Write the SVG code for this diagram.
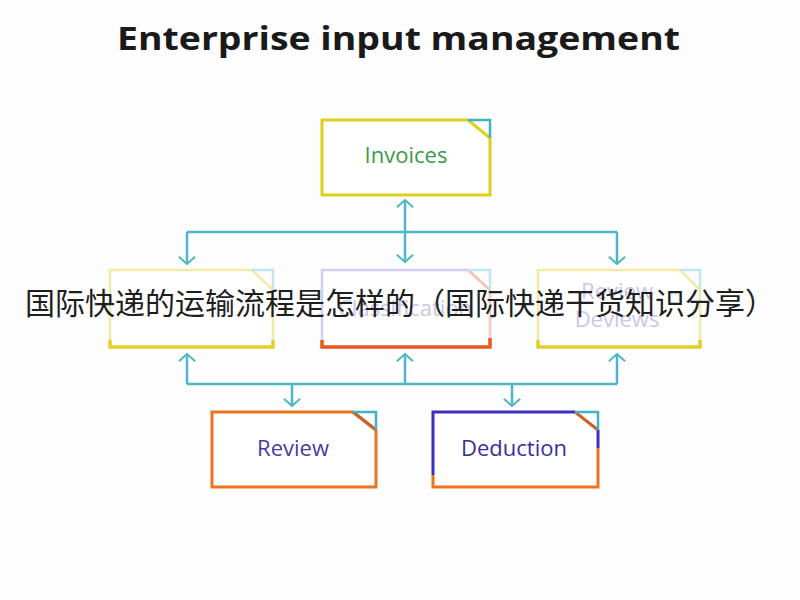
<svg xmlns="http://www.w3.org/2000/svg" width="800" height="600" viewBox="0 0 800 600">
<defs>
<style>
.title{font-family:"Open Sans","Liberation Sans",sans-serif;font-weight:700;font-size:32px;fill:#1a1a1a}
.lbl{font-family:"Open Sans","Liberation Sans",sans-serif;font-size:22px;text-anchor:middle}
.faint{fill:#cac6ea}
.conn{stroke:#4db6c9;stroke-width:2.5;fill:none}
.fold{fill:none;stroke-width:2.5}
.overlay{font-family:"Noto Sans CJK SC","Noto Sans CJK JP",sans-serif;font-size:30px;fill:#1e1e1e}
</style>
<marker id="arr" viewBox="0 0 10 20" refX="9" refY="10" markerWidth="9" markerHeight="18" markerUnits="userSpaceOnUse" orient="auto-start-reverse">
<path d="M1,1 L9,10 L1,19" fill="none" stroke="#4db6c9" stroke-width="2.2"/>
</marker>
</defs>
<rect width="800" height="600" fill="#fdfdfd"/>
<text class="title" x="117" y="50" textLength="563" lengthAdjust="spacingAndGlyphs">Enterprise input management</text>

<g id="connectors">
<path class="conn" d="M405,200 L405,262" marker-start="url(#arr)" marker-end="url(#arr)"/>
<path class="conn" d="M187,232 L617,232"/>
<path class="conn" d="M187,232 L187,264" marker-end="url(#arr)"/>
<path class="conn" d="M617,232 L617,264" marker-end="url(#arr)"/>
<path class="conn" d="M187,384 L617,384"/>
<path class="conn" d="M187,384 L187,354" marker-end="url(#arr)"/>
<path class="conn" d="M405,384 L405,354" marker-end="url(#arr)"/>
<path class="conn" d="M617,384 L617,354" marker-end="url(#arr)"/>
<path class="conn" d="M292,384 L292,406" marker-end="url(#arr)"/>
<path class="conn" d="M512,384 L512,406" marker-end="url(#arr)"/>
</g>

<g id="invoices">
<path d="M468,120 L322,120 L322,195 L490,195 L490,138 Z" fill="#ffffff" stroke="#ddd01c" stroke-width="3"/>
<path class="fold" d="M468,120 L490,120 L490,138" stroke="#3fb3c6"/>
<text class="lbl" x="406" y="163" fill="#3a9a45">Invoices</text>
</g>

<g id="node-left">
<path d="M252,270 L110,270 L110,347 L273,347 L273,290 Z" fill="#ffffff" stroke="#f3eaa8" stroke-width="2.5"/>
<path class="fold" d="M252,270 L273,270 L273,290" stroke="#c0e6ee"/>
<path d="M110,340 L110,347 L273,347 L273,340" fill="none" stroke="#e3cf2c" stroke-width="3.5"/>
</g>

<g id="node-middle">
<path d="M468,270 L322,270 L322,347 L490,347 L490,290 Z" fill="#ffffff" stroke="#d2cdf0" stroke-width="2.5"/>
<path d="M468,270 L490,290" stroke="#f6c4b4" stroke-width="2.5"/>
<path class="fold" d="M468,270 L490,270 L490,290" stroke="#c0e6ee"/>
<path d="M490,290 L490,340" stroke="#f6cfc0" stroke-width="2.5"/>
<path d="M322,340 L322,347 L490,347 L490,338" fill="none" stroke="#e85a1c" stroke-width="3.5"/>
<text class="lbl faint" x="405" y="316">Classification</text>
</g>

<g id="node-right">
<path d="M680,270 L538,270 L538,347 L700,347 L700,290 Z" fill="#ffffff" stroke="#f3eaa8" stroke-width="2.5"/>
<path class="fold" d="M680,270 L700,270 L700,290" stroke="#c0e6ee"/>
<path d="M538,340 L538,347 L700,347 L700,340" fill="none" stroke="#e3cf2c" stroke-width="3.5"/>
<text class="lbl faint" x="617" y="299" font-size="20">Review</text>
<text class="lbl faint" x="617" y="327" font-size="20">Deviews</text>
</g>

<g id="review">
<path d="M353,412 L212,412 L212,487 L376,487 L376,430 Z" fill="#ffffff" stroke="#ea7420" stroke-width="3"/>
<path d="M353,412 L376,430" stroke="#c8622a" stroke-width="3"/>
<path class="fold" d="M353,412 L376,412 L376,430" stroke="#3fb3c6"/>
<text class="lbl" x="293" y="456" fill="#4a3aa0">Review</text>
</g>

<g id="deduction">
<rect x="433" y="412" width="165" height="75" fill="#ffffff"/>
<path d="M433,475 L433,412 L575,412" fill="none" stroke="#3a2fc0" stroke-width="3"/>
<path d="M433,475 L433,487 L598,487 L598,448" fill="none" stroke="#ea7420" stroke-width="3"/>
<path d="M598,448 L598,430" fill="none" stroke="#3a2fc0" stroke-width="3"/>
<path d="M575,412 L598,430" stroke="#c8622a" stroke-width="3"/>
<path class="fold" d="M575,412 L598,412 L598,430" stroke="#3fb3c6"/>
<text class="lbl" x="514" y="456" fill="#3a2f9a">Deduction</text>
</g>

<text class="overlay" x="25" y="314" textLength="750" lengthAdjust="spacingAndGlyphs">国际快递的运输流程是怎样的（国际快递干货知识分享）</text>
</svg>
